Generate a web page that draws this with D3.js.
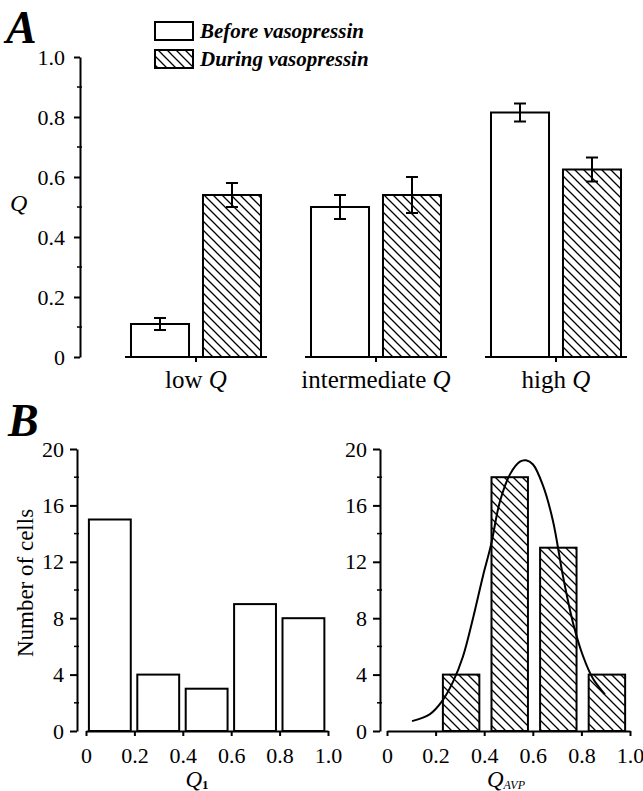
<!DOCTYPE html>
<html>
<head>
<meta charset="utf-8">
<script src="https://cdn.jsdelivr.net/npm/d3@7"></script>
<style>
  html, body { margin: 0; padding: 0; background: #fff; }
</style>
</head>
<body>
<svg id="chart" width="643" height="791"></svg>
<script>
// ---- panel A data: Q before / during vasopressin
const groups = ['low', 'intermediate', 'high'];
const beforeVals = [0.11, 0.50, 0.815];
const beforeErr = [0.02, 0.04, 0.03];
const duringVals = [0.54, 0.54, 0.625];
const duringErr = [0.04, 0.06, 0.04];
const qTicks = [0, 0.2, 0.4, 0.6, 0.8, 1.0];
const qMinor = [0.1, 0.3, 0.5, 0.7, 0.9];

// ---- panel B data: histograms
const q1Bins = [0, 0.2, 0.4, 0.6, 0.8];
const q1Counts = [15, 4, 3, 9, 8];
const avpBins = [0.2, 0.4, 0.6, 0.8];
const avpCounts = [4, 18, 13, 4];
const countTicks = [0, 4, 8, 12, 16, 20];
const countMinor = [2, 6, 10, 14, 18];
const binTicks = [0, 0.2, 0.4, 0.6, 0.8, 1.0];
// fitted curve
const fitX = [0.103, 0.177, 0.226, 0.272, 0.313, 0.354, 0.395, 0.428, 0.465, 0.506, 0.547, 0.572, 0.601, 0.642, 0.683, 0.724, 0.765, 0.807, 0.848, 0.897];
const fitY = [0.7, 1.2, 2.1, 3.5, 5.3, 8.0, 11.0, 13.2, 16.3, 18.2, 19.1, 19.2, 18.9, 17.4, 14.9, 11.0, 7.7, 5.3, 3.7, 2.6];

const FONT = "'Liberation Serif', 'Times New Roman', serif";

const svg = d3.select('#chart').attr('font-family', FONT);
svg.append('rect').attr('width', 643).attr('height', 791).attr('fill', '#fff');

// hatch pattern
const defs = svg.append('defs');
defs.append('pattern')
  .attr('id', 'hatch')
  .attr('patternUnits', 'userSpaceOnUse')
  .attr('width', 9).attr('height', 9)
  .append('path')
  .attr('d', 'M0,0 L9,9 M-1,8 L1,10 M8,-1 L10,1')
  .attr('stroke', '#000')
  .attr('stroke-width', 1.3);

const fmt = d => d === 0 ? '0' : d.toFixed(1);

function styleAxis(g) {
  g.attr('font-family', FONT).attr('font-size', 22);
  g.selectAll('path, line').attr('stroke', '#000').attr('stroke-width', 2);
  g.selectAll('text').attr('fill', '#000');
}

/* ===== Panel A ===== */
const xA = d3.scaleBand().domain(groups).range([106, 646]);
const xSub = d3.scaleBand().domain(['before', 'during']).range([25, 155]).paddingInner(0.194);
const yA = d3.scaleLinear().domain([0, 1]).range([357, 57]);

svg.append('text').text('A')
  .attr('x', 6).attr('y', 43)
  .attr('font-size', 46).attr('font-weight', 'bold').attr('font-style', 'italic');

const axA = svg.append('g').attr('transform', 'translate(80,0)')
  .call(d3.axisLeft(yA).tickValues(qTicks).tickFormat(fmt).tickSize(6).tickSizeOuter(0).tickPadding(9))
  .call(styleAxis);
axA.selectAll('.minor').data(qMinor).join('line')
  .attr('x1', -3).attr('x2', 2).attr('y1', d => yA(d)).attr('y2', d => yA(d))
  .attr('stroke', '#000').attr('stroke-width', 1.5);

svg.append('text').text('Q')
  .attr('x', 10).attr('y', 211)
  .attr('font-size', 24).attr('font-style', 'italic');

const series = [
  { key: 'before', vals: beforeVals, err: beforeErr, fill: '#fff' },
  { key: 'during', vals: duringVals, err: duringErr, fill: 'url(#hatch)' },
];

const gA = svg.append('g');
groups.forEach((g, i) => {
  const x0 = xA(g);
  // broken baseline for each group
  gA.append('line')
    .attr('x1', x0 + 19).attr('x2', x0 + 161)
    .attr('y1', yA(0)).attr('y2', yA(0))
    .attr('stroke', '#000').attr('stroke-width', 2);
  gA.append('line')
    .attr('x1', x0 + xA.bandwidth() / 2).attr('x2', x0 + xA.bandwidth() / 2)
    .attr('y1', yA(0)).attr('y2', yA(0) + 5)
    .attr('stroke', '#000').attr('stroke-width', 2);

  series.forEach(s => {
    const bx = x0 + xSub(s.key);
    const bw = xSub.bandwidth();
    gA.append('rect')
      .attr('x', bx).attr('y', yA(s.vals[i]))
      .attr('width', bw).attr('height', yA(0) - yA(s.vals[i]))
      .attr('fill', s.fill).attr('stroke', '#000').attr('stroke-width', 2);
    const cx = bx + bw / 2;
    const lo = yA(s.vals[i] - s.err[i]), hi = yA(s.vals[i] + s.err[i]);
    gA.append('line').attr('x1', cx).attr('x2', cx).attr('y1', lo).attr('y2', hi)
      .attr('stroke', '#000').attr('stroke-width', 2);
    [lo, hi].forEach(y => {
      gA.append('line').attr('x1', cx - 6).attr('x2', cx + 6).attr('y1', y).attr('y2', y)
        .attr('stroke', '#000').attr('stroke-width', 2);
    });
  });

  const lab = gA.append('text')
    .attr('x', x0 + xA.bandwidth() / 2).attr('y', 388)
    .attr('text-anchor', 'middle').attr('font-size', 25);
  lab.append('tspan').text(g + ' ');
  lab.append('tspan').text('Q').attr('font-style', 'italic');
});

// legend
const legend = [
  { label: 'Before vasopressin', fill: '#fff' },
  { label: 'During vasopressin', fill: 'url(#hatch)' },
];
legend.forEach((d, i) => {
  const y = 22 + i * 28;
  svg.append('rect').attr('x', 155).attr('y', y).attr('width', 38).attr('height', 18)
    .attr('fill', d.fill).attr('stroke', '#000').attr('stroke-width', 2);
  svg.append('text').text(d.label)
    .attr('x', 200).attr('y', y + 16)
    .attr('font-size', 21).attr('font-style', 'italic').attr('font-weight', 'bold');
});

/* ===== Panel B ===== */
svg.append('text').text('B')
  .attr('x', 8).attr('y', 436)
  .attr('font-size', 46).attr('font-weight', 'bold').attr('font-style', 'italic');

const yB = d3.scaleLinear().domain([0, 20]).range([731, 449]);
const xL = d3.scaleLinear().domain([0, 1]).range([86, 328]);
const xR = d3.scaleLinear().domain([0, 1]).range([387, 630]);

function histPanel(xs, yAxisX, bins, counts, left, right, fill) {
  const g = svg.append('g');
  const ay = g.append('g').attr('transform', `translate(${yAxisX},0)`)
    .call(d3.axisLeft(yB).tickValues(countTicks).tickSize(7).tickSizeOuter(0).tickPadding(6))
    .call(styleAxis);
  ay.selectAll('.minor').data(countMinor).join('line')
    .attr('x1', -3).attr('x2', 2).attr('y1', d => yB(d)).attr('y2', d => yB(d))
    .attr('stroke', '#000').attr('stroke-width', 1.5);
  g.append('g').attr('transform', `translate(0,${yB(0)})`)
    .call(d3.axisBottom(xs).tickValues(binTicks).tickFormat(fmt).tickSize(5).tickSizeOuter(0).tickPadding(11))
    .call(styleAxis);
  g.selectAll('rect.bar').data(bins).join('rect')
    .attr('class', 'bar')
    .attr('x', (d) => xs(d + left))
    .attr('width', (d) => xs(d + right) - xs(d + left))
    .attr('y', (d, i) => yB(counts[i]))
    .attr('height', (d, i) => yB(0) - yB(counts[i]))
    .attr('fill', fill).attr('stroke', '#000').attr('stroke-width', 2);
  return g;
}

histPanel(xL, 77, q1Bins, q1Counts, 0.012, 0.185, '#fff');
const gR = histPanel(xR, 380, avpBins, avpCounts, 0.03, 0.18, 'url(#hatch)');

gR.append('path')
  .datum(fitX.map((x, i) => [x, fitY[i]]))
  .attr('d', d3.line().x(d => xR(d[0])).y(d => yB(d[1])).curve(d3.curveCatmullRom))
  .attr('fill', 'none').attr('stroke', '#000').attr('stroke-width', 2);

svg.append('text').text('Number of cells')
  .attr('transform', 'translate(33,583) rotate(-90)')
  .attr('text-anchor', 'middle').attr('font-size', 23);

const q1 = svg.append('text').attr('x', 197).attr('y', 787).attr('text-anchor', 'middle').attr('font-size', 23);
q1.append('tspan').text('Q').attr('font-style', 'italic');
q1.append('tspan').text('1').attr('font-size', 13).attr('font-weight', 'bold').attr('dy', 2);

const qa = svg.append('text').attr('x', 506).attr('y', 787).attr('text-anchor', 'middle').attr('font-size', 23);
qa.append('tspan').text('Q').attr('font-style', 'italic');
qa.append('tspan').text('AVP').attr('font-size', 12).attr('font-style', 'italic').attr('dy', 2);
</script>
</body>
</html>
